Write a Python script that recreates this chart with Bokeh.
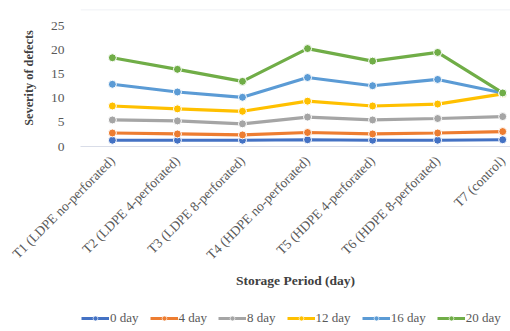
from math import pi

from bokeh.embed import file_html
from bokeh.layouts import column
from bokeh.models import (ColumnDataSource, FixedTicker, Legend, LegendItem,
                          Range1d, Span)
from bokeh.plotting import figure
from bokeh.resources import INLINE

# Treatments (packaging) on the x axis
treatments = [
    "T1 (LDPE no-perforated)",
    "T2 (LDPE 4-perforated)",
    "T3 (LDPE 8-perforated)",
    "T4 (HDPE no-perforated)",
    "T5 (HDPE 4-perforated)",
    "T6 (HDPE 8-perforated)",
    "T7 (control)",
]

# Severity of defects by storage period
day_0 = [1.3, 1.3, 1.3, 1.4, 1.3, 1.3, 1.4]
day_4 = [2.8, 2.6, 2.4, 2.9, 2.6, 2.8, 3.1]
day_8 = [5.5, 5.3, 4.7, 6.1, 5.5, 5.8, 6.2]
day_12 = [8.4, 7.8, 7.3, 9.4, 8.4, 8.8, 10.9]
day_16 = [12.9, 11.3, 10.2, 14.3, 12.6, 13.9, 11.1]
day_20 = [18.4, 16.0, 13.5, 20.3, 17.7, 19.5, 11.1]

series_names = ["0 day", "4 day", "8 day", "12 day", "16 day", "20 day"]
series_values = [day_0, day_4, day_8, day_12, day_16, day_20]
colors = ["#4472C4", "#ED7D31", "#A5A5A5", "#FFC000", "#5B9BD5", "#70AD47"]

y_ticks = [0, 5, 10, 15, 20, 25]

SERIF = "Liberation Serif"
TICK_GRAY = "#595959"
LABEL_GRAY = "#404040"

x_pos = list(range(len(treatments)))
sources = [ColumnDataSource(dict(x=x_pos, y=vals)) for vals in series_values]

chart = figure(
    width=510,
    height=305,
    x_range=Range1d(-0.49, 6.12),
    y_range=Range1d(0, 28.4),
    output_backend="svg",
    toolbar_location=None,
    min_border_top=9,
    min_border_right=0,
    min_border_left=80,
    min_border_bottom=159,
)
chart.outline_line_color = None
chart.xgrid.visible = False
chart.ygrid.visible = False

# Category axis with slanted treatment names
chart.xaxis.ticker = FixedTicker(ticks=x_pos)
chart.xaxis.major_label_overrides = {i: t for i, t in enumerate(treatments)}
chart.xaxis.major_label_orientation = pi / 4
chart.xaxis.major_label_text_font = SERIF
chart.xaxis.major_label_text_font_size = "13.5px"
chart.xaxis.major_label_text_color = TICK_GRAY
chart.xaxis.major_tick_line_color = None
chart.xaxis.minor_tick_line_color = None
chart.xaxis.axis_line_color = "#D9DDE8"
chart.xaxis.axis_line_width = 1
chart.xaxis.major_label_standoff = 6
chart.xaxis.axis_label = "Storage Period (day)"
chart.xaxis.axis_label_text_font = SERIF
chart.xaxis.axis_label_text_font_style = "bold"
chart.xaxis.axis_label_text_font_size = "13.5px"
chart.xaxis.axis_label_text_color = LABEL_GRAY
chart.xaxis.axis_label_standoff = 2

chart.yaxis.ticker = FixedTicker(ticks=y_ticks)
chart.yaxis.major_label_text_font = SERIF
chart.yaxis.major_label_text_font_size = "13.5px"
chart.yaxis.major_label_text_color = TICK_GRAY
chart.yaxis.major_tick_line_color = None
chart.yaxis.minor_tick_line_color = None
chart.yaxis.axis_line_color = None
chart.yaxis.major_label_standoff = 10
chart.yaxis.axis_label = "Severity of defects"
chart.yaxis.axis_label_text_font = SERIF
chart.yaxis.axis_label_text_font_style = "bold"
chart.yaxis.axis_label_text_font_size = "12.3px"
chart.yaxis.axis_label_text_color = LABEL_GRAY
chart.yaxis.axis_label_standoff = 12

# Thin rule along the top of the chart area
chart.add_layout(Span(location=28.35, dimension="width",
                      line_color="#E6E8EE", line_width=1))

for src, color in zip(sources, colors):
    chart.line("x", "y", source=src, line_color=color, line_width=3.2)
    chart.scatter("x", "y", source=src, size=8, fill_color=color,
                  line_color="white", line_width=1)

# Legend strip beneath the chart; its view window sits above the data,
# so only the legend swatches show
key_fig = figure(
    width=510,
    height=26,
    x_range=Range1d(0, 1),
    y_range=Range1d(100, 101),
    x_axis_location=None,
    y_axis_location=None,
    output_backend="svg",
    toolbar_location=None,
    min_border=0,
)
key_fig.grid.visible = False
key_fig.outline_line_color = None

legend_items = []
for name, src, color in zip(series_names, sources, colors):
    kl = key_fig.line("x", "y", source=src, line_color=color, line_width=3)
    ks = key_fig.scatter("x", "y", source=src, size=5, fill_color=color,
                         line_color="white", line_width=0.6)
    legend_items.append(LegendItem(label=name, renderers=[kl, ks]))

legend = Legend(
    items=legend_items,
    orientation="horizontal",
    label_text_font=SERIF,
    label_text_font_size="13px",
    label_text_color=TICK_GRAY,
    glyph_width=28,
    glyph_height=12,
    label_standoff=1,
    spacing=11,
    padding=0,
    margin=0,
    border_line_color=None,
    background_fill_alpha=0,
    location=(1, 5),
)
key_fig.add_layout(legend)

page = column(chart, key_fig, spacing=0)
open("out.html", "w").write(file_html(page, INLINE))
